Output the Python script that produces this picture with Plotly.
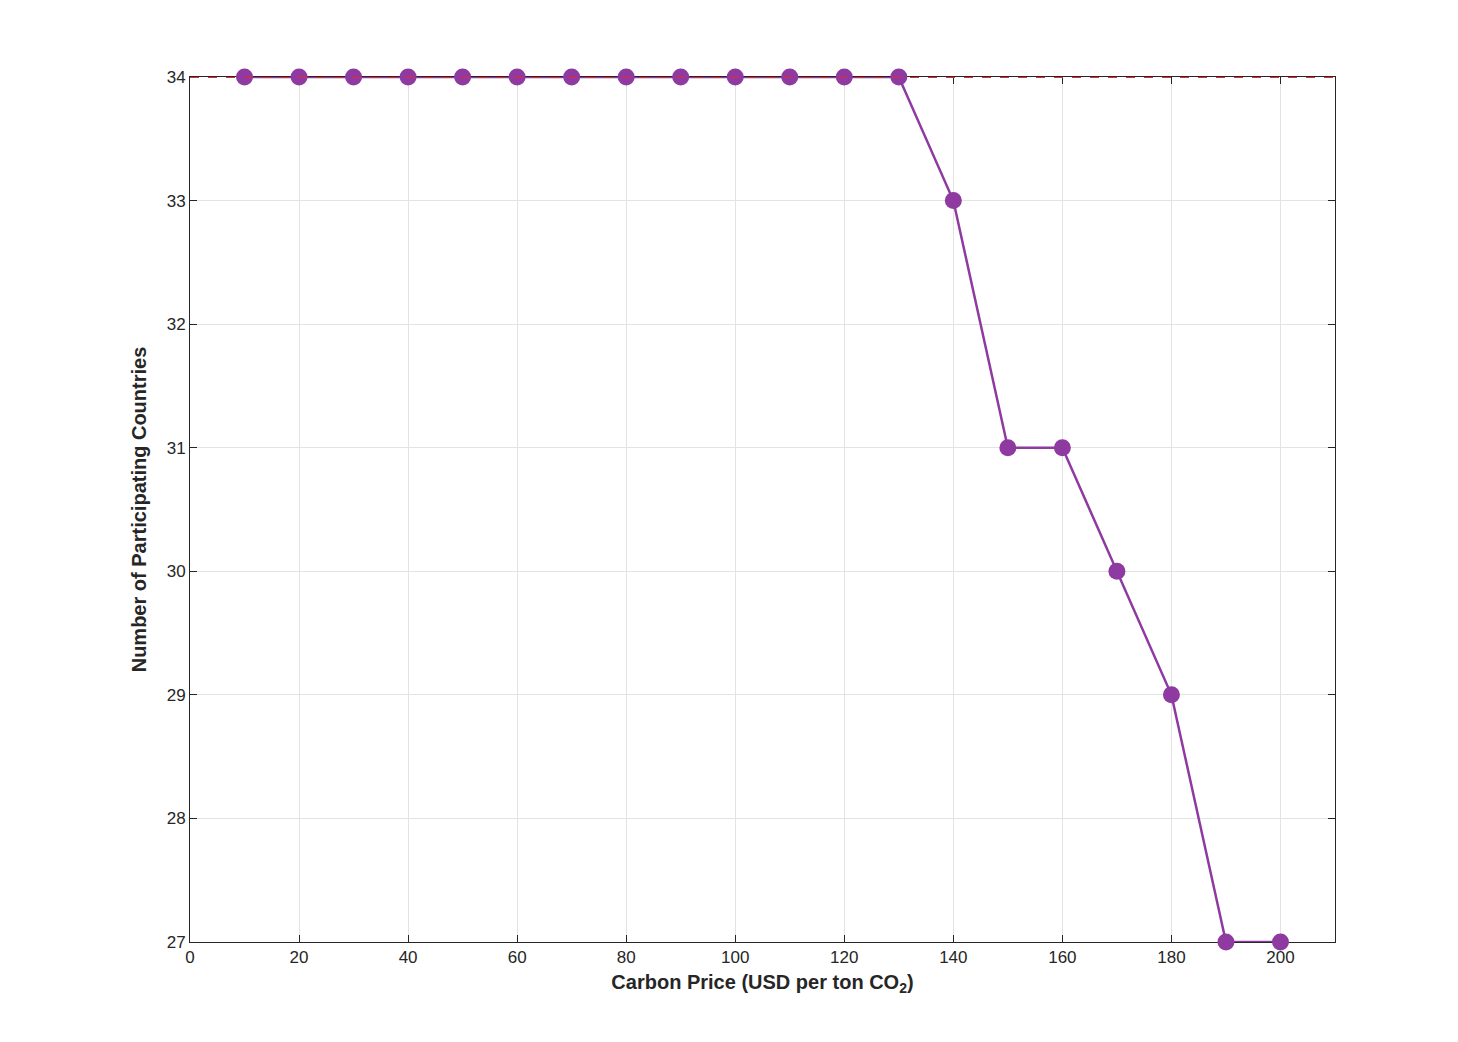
import plotly.graph_objects as go

price = [10, 20, 30, 40, 50, 60, 70, 80, 90, 100, 110, 120, 130, 140, 150, 160, 170, 180, 190, 200]
countries = [34, 34, 34, 34, 34, 34, 34, 34, 34, 34, 34, 34, 34, 33, 31, 31, 30, 29, 27, 27]
total_countries = 34
x_range = [0, 210]

fig = go.Figure()
fig.add_trace(go.Scatter(x=price, y=countries, mode='lines+markers', cliponaxis=False,
                         line=dict(color='#8e3aa0', width=2.5),
                         marker=dict(size=17, color='#8e3aa0')))
# reference line for total countries, drawn on top
fig.add_trace(go.Scatter(x=x_range, y=[total_countries] * 2, mode='lines', cliponaxis=False,
                         line=dict(color='#e8272e', width=2, dash='dash')))

axis = dict(showline=True, linecolor='#262626', linewidth=1, mirror='ticks',
            ticks='inside', ticklen=7, tickcolor='#262626', layer='below traces',
            showgrid=True, gridcolor='#e3e3e3', zeroline=False,
            tickfont=dict(size=17, color='#262626'))
fig.update_xaxes(range=x_range, dtick=20,
                 title=dict(text='<b>Carbon Price (USD per ton CO<sub>2</sub>)</b>',
                            font=dict(size=20, color='#262626'), standoff=8), **axis)
fig.update_yaxes(range=[27, 34], dtick=1,
                 title=dict(text='<b>Number of Participating Countries</b>',
                            font=dict(size=20, color='#262626'), standoff=14), **axis)
fig.update_layout(width=1458, height=1042, showlegend=False,
                  plot_bgcolor='white', paper_bgcolor='white',
                  font=dict(family='Liberation Sans, Arial'),
                  margin=dict(l=182, r=131, t=69, b=108))
fig.write_html("out.html")
